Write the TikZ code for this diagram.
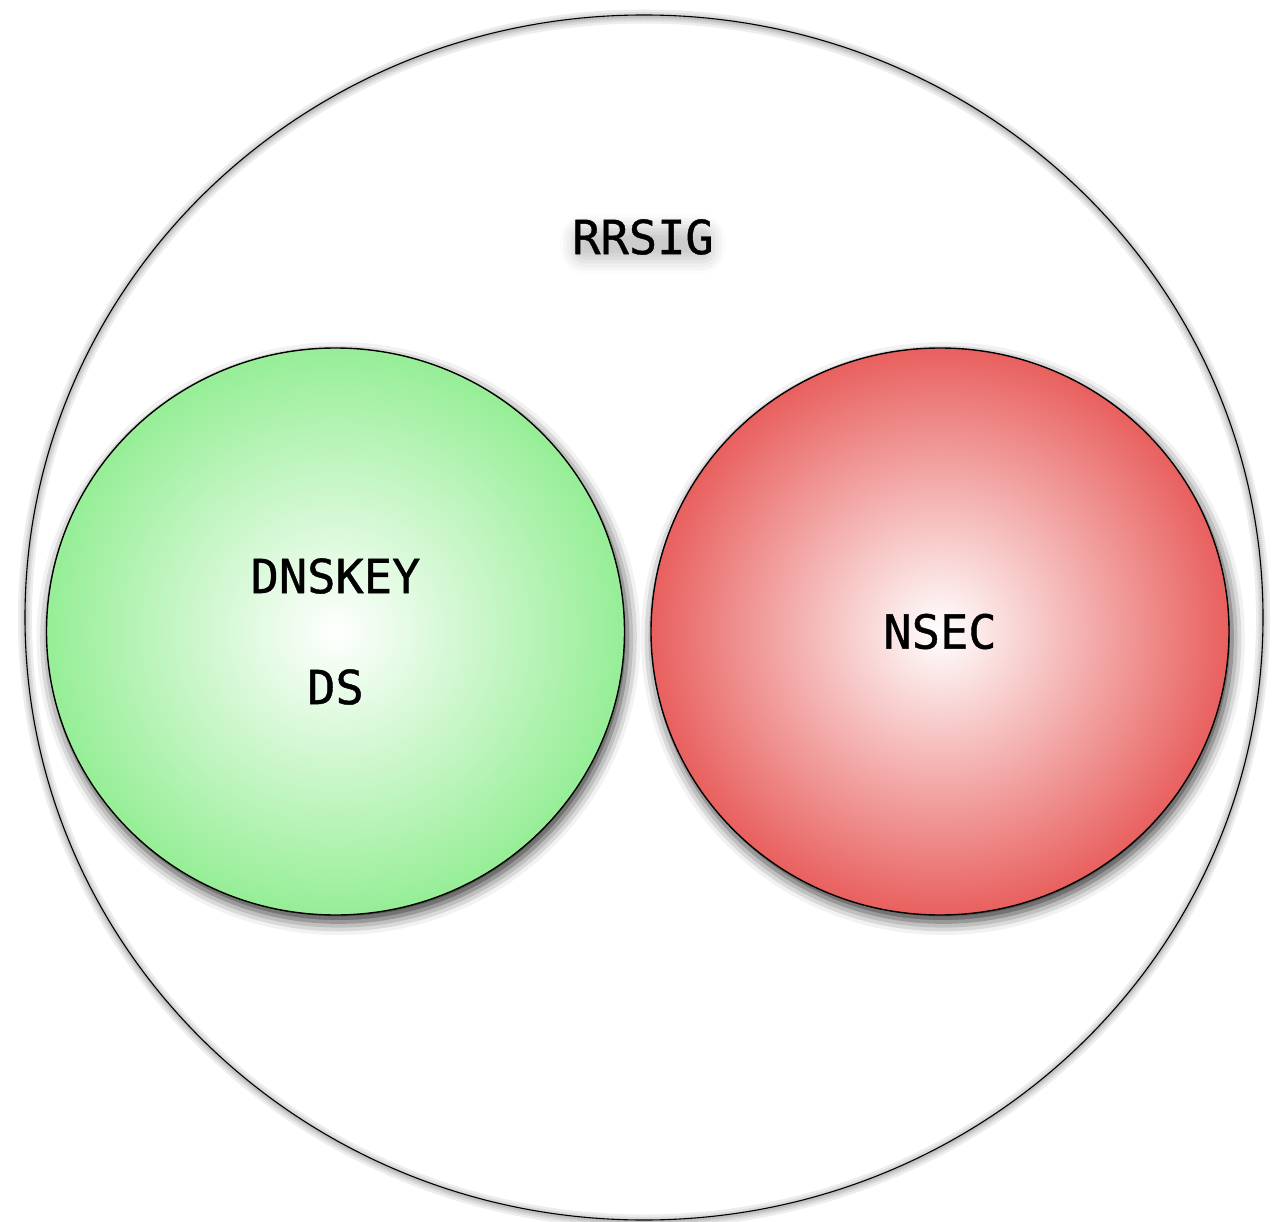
\documentclass[tikz,border=0pt]{standalone}
\usepackage{tikz}
\usepackage{fontspec}
\usetikzlibrary{shapes.geometric, shadows.blur}

\newfontfamily\rrfont[FakeBold=0.9]{DejaVu Sans Mono}

\definecolor{keygreen}{RGB}{150,238,150}
\definecolor{secred}{RGB}{232,96,94}

\tikzset{
  rrlabel/.style = {font=\rrfont\fontsize{47}{111}\selectfont, align=center, inner sep=0pt},
  rrset/.style = {ellipse, draw=black, line width=1.4pt, inner sep=0pt,
    minimum width=578pt, minimum height=567pt, shading=radial, inner color=white,
    blur shadow={shadow xshift=3pt, shadow yshift=-7pt, shadow blur radius=13pt, shadow opacity=80}},
}

\begin{document}
\begin{tikzpicture}[x=1pt, y=-1pt]

\useasboundingbox (0, 0) rectangle (1277, 1222);

% outer set, soft ring round the line
\foreach \w in {2, 5, 9, 14} {
  \draw[black, opacity=0.07, line width=\w pt] (644, 619) ellipse (619 and 602.5);
}
\node[ellipse, draw=black, line width=1.1pt, inner sep=0pt,
  minimum width=1238pt, minimum height=1205pt] (sig) at (644, 617.5) {};

\node[rrlabel, rounded corners=12pt, blur shadow={shadow xshift=0pt, shadow yshift=-7pt, shadow blur radius=12pt, shadow opacity=20}] (rrsig) at (643, 237) {RRSIG};

\node[rrset, outer color=keygreen, rrlabel] (keyset) at (335.5, 631.5) {DNSKEY\\DS};
\node[rrset, outer color=secred, rrlabel] (nsec) at (940, 631.5) {NSEC};

\end{tikzpicture}
\end{document}
